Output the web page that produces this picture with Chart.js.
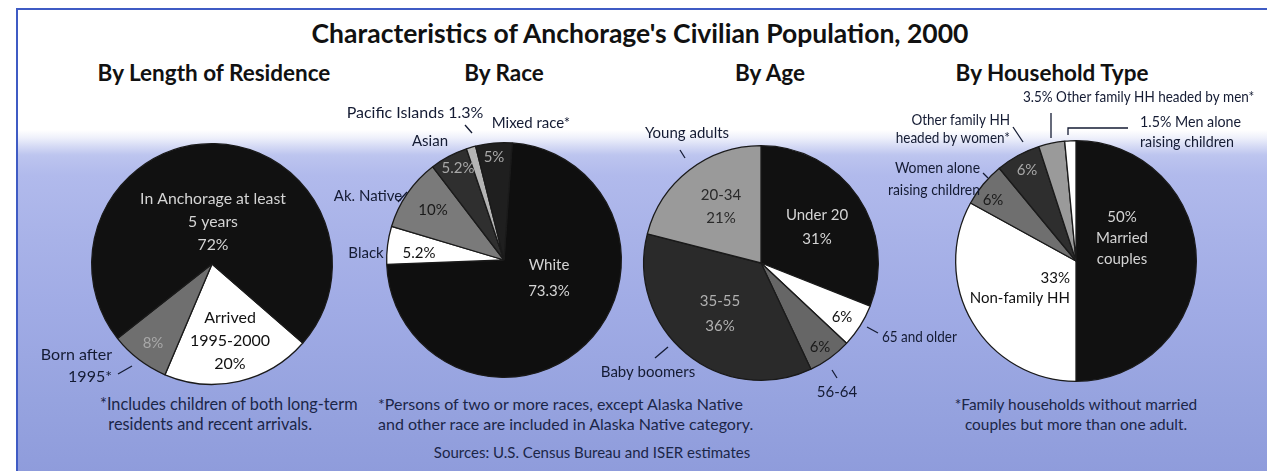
<!DOCTYPE html>
<html>
<head>
<meta charset="utf-8">
<script src="https://cdn.jsdelivr.net/npm/chart.js@4"></script>
<style>
  html, body { margin: 0; padding: 0; }
  body { width: 1267px; height: 471px; position: relative; overflow: hidden; background: #fff; font-family: Lato, 'Open Sans', sans-serif; }
  #frame {
    position: absolute; left: 16px; top: 8px; right: -10px; bottom: -10px;
    border-left: 2px solid #3f5bc4; border-top: 2px solid #3f5bc4;
    background: linear-gradient(to bottom, #ffffff 0px, #ffffff 120px, #eef0fb 128px, #d6dbf5 136px, #bdc5ef 145px, #b1baec 165px, #a8b2e8 230px, #a0abe5 300px, #96a3df 390px, #8e9bdb 470px);
  }
  canvas { position: absolute; left: 0; top: 0; }
  .txt { position: absolute; white-space: nowrap; transform: translate(-50%, -50%); color: #141b33; }
  .title { font-weight: 700; font-size: 26.5px; color: #111; }
  .sub { font-weight: 700; font-size: 22.5px; color: #111; }
  .note { line-height: 20px; color: #1b2648; }
  .left { transform: translate(0, -50%); }
  .src { font-size: 15px; color: #1b2648; }
</style>
</head>
<body>
<div id="frame"></div>
<div class="txt title" style="left:640px; top:33px;">Characteristics of Anchorage's Civilian Population, 2000</div>
<div class="txt sub" style="left:214px; top:72px;">By Length of Residence</div>
<div class="txt sub" style="left:504px; top:72px;">By Race</div>
<div class="txt sub" style="left:770px; top:72px;">By Age</div>
<div class="txt sub" style="left:1052px; top:72px;">By Household Type</div>
<div class="txt note left" style="left:100px; top:414px; font-size:16.3px;">*Includes children of both long-term<br>&nbsp;&nbsp;residents and recent arrivals.</div>
<div class="txt note left" style="left:378px; top:414px; font-size:16px;">*Persons of two or more races, except Alaska Native<br>and other race are included in Alaska Native category.</div>
<div class="txt note" style="left:1076px; top:414px; font-size:15.4px; text-align:center;">*Family households without married<br>couples but more than one adult.</div>
<div class="txt src" style="left:592px; top:452px;">Sources: U.S. Census Bureau and ISER estimates</div>

<canvas id="pie1" width="1267" height="471"></canvas>
<canvas id="pie2" width="1267" height="471"></canvas>
<canvas id="pie3" width="1267" height="471"></canvas>
<canvas id="pie4" width="1267" height="471"></canvas>

<script>
// data
var residenceLabels = ['Arrived 1995-2000', 'Born after 1995*', 'In Anchorage at least 5 years'];
var residenceValues = [20, 8, 72];

var raceLabels = ['White', 'Black', 'Ak. Native', 'Asian', 'Pacific Islands', 'Mixed race*'];
var raceValues = [73.3, 5.2, 10, 5.2, 1.3, 5];

var ageLabels = ['Under 20', '65 and older', '56-64', '35-55', '20-34'];
var ageValues = [31, 6, 6, 36, 21];

var householdLabels = ['Married couples', 'Non-family HH', 'Women alone raising children',
  'Other family HH headed by women*', 'Other family HH headed by men*', 'Men alone raising children'];
var householdValues = [50, 33, 6, 6, 3.5, 1.5];

var LIGHT = '#d4d4d4', DARK = '#111', NAVY = '#141b33';

// text placed around each pie, offsets in px from the pie centre
var residenceText = [
  { i: 2, lines: ['In Anchorage at least', '5 years', '{v}%'], dx: 1, dy: -42, color: LIGHT, lh: 23, size: 15.8 },
  { i: 0, lines: ['Arrived', '1995-2000', '{v}%'], dx: 18, dy: 77, color: DARK, lh: 23, size: 16 },
  { i: 1, lines: ['{v}%'], dx: -59, dy: 79, color: '#a8a8a8' },
  { i: 1, lines: ['Born after', '1995*'], dx: -100, dy: 102, color: NAVY, lh: 22, align: 'right', size: 16 }
];
var residenceLeaders = [[[-94, 110], [-80, 102]]];

var raceText = [
  { i: 4, lines: ['Pacific Islands {v}%'], dx: -89, dy: -147, color: NAVY, size: 16 },
  { i: 5, lines: ['Mixed race*'], dx: 27, dy: -137, color: NAVY },
  { i: 3, lines: ['Asian'], dx: -74, dy: -119, color: NAVY },
  { i: 3, lines: ['{v}%'], dx: -46, dy: -92, color: '#a8a8a8' },
  { i: 5, lines: ['{v}%'], dx: -10, dy: -103, color: '#a8a8a8' },
  { i: 2, lines: ['Ak. Native'], dx: -136, dy: -64, color: NAVY },
  { i: 2, lines: ['{v}%'], dx: -71, dy: -50, color: '#1a1a1a' },
  { i: 1, lines: ['Black'], dx: -138, dy: -7, color: NAVY },
  { i: 1, lines: ['{v}%'], dx: -85, dy: -7, color: DARK },
  { i: 0, lines: ['White', '{v}%'], dx: 45, dy: 18, color: LIGHT, lh: 26 }
];
var raceLeaders = [[[-39, -135], [-32, -127]], [[-106, -58], [-97, -68]]];

var ageText = [
  { i: 4, lines: ['Young adults'], dx: -74, dy: -130, color: NAVY },
  { i: 4, lines: ['20-34', '{v}%'], dx: -40, dy: -56, color: '#2a2a2a', lh: 23 },
  { i: 0, lines: ['Under 20', '{v}%'], dx: 56, dy: -36, color: LIGHT, lh: 24 },
  { i: 3, lines: ['35-55', '{v}%'], dx: -41, dy: 51, color: '#b0b0b0', lh: 25 },
  { i: 1, lines: ['{v}%'], dx: 81, dy: 54, color: DARK },
  { i: 2, lines: ['{v}%'], dx: 59, dy: 84, color: '#1a1a1a' },
  { i: 1, lines: ['65 and older'], dx: 121, dy: 74, color: NAVY, align: 'left', sx: 0.9 },
  { i: 2, lines: ['56-64'], dx: 76, dy: 129, color: NAVY },
  { i: 3, lines: ['Baby boomers'], dx: -113, dy: 109, color: NAVY }
];
var ageLeaders = [[[-81, -113], [-76, -105]], [[106, 64], [117, 70]], [[71, 107], [76, 115]], [[-106, 95], [-93, 84]]];

var householdText = [
  { i: 4, lines: ['{v}% Other family HH headed by men*'], dx: -53, dy: -164, color: NAVY, align: 'left', sx: 0.9 },
  { i: 5, lines: ['{v}% Men alone', 'raising children'], dx: 64, dy: -129, color: NAVY, align: 'left', lh: 20, sx: 0.95 },
  { i: 3, lines: ['Other family HH', 'headed by women*'], dx: -66, dy: -132, color: NAVY, align: 'right', lh: 18, sx: 0.9 },
  { i: 2, lines: ['Women alone', 'raising children'], dx: -96, dy: -82, color: NAVY, align: 'right', lh: 22, sx: 0.93 },
  { i: 3, lines: ['{v}%'], dx: -49, dy: -91, color: '#a8a8a8' },
  { i: 2, lines: ['{v}%'], dx: -83, dy: -61, color: '#1a1a1a' },
  { i: 0, lines: ['{v}%', 'Married', 'couples'], dx: 46, dy: -23, color: LIGHT, lh: 21 },
  { i: 1, lines: ['{v}%', 'Non-family HH'], dx: -6, dy: 27, color: DARK, align: 'right', lh: 20 }
];
var householdLeaders = [[[-25, -148], [-25, -123]], [[-8, -126], [-8, -133], [52, -133]], [[-63, -134], [-53, -119]], [[-93, -88], [-88, -83]]];

// draws the text blocks and leader lines relative to the pie centre
var pieText = {
  id: 'pieText',
  afterDraw: function(chart, args, opts) {
    var ctx = chart.ctx;
    var arc = chart.getDatasetMeta(0).data[0];
    var cx = arc.x, cy = arc.y;
    var values = chart.data.datasets[0].data;
    ctx.save();
    ctx.strokeStyle = NAVY;
    ctx.lineWidth = 1.3;
    (opts.leaders || []).forEach(function(pts) {
      ctx.beginPath();
      pts.forEach(function(p, k) {
        if (k === 0) ctx.moveTo(cx + p[0], cy + p[1]);
        else ctx.lineTo(cx + p[0], cy + p[1]);
      });
      ctx.stroke();
    });
    ctx.textBaseline = 'middle';
    (opts.items || []).forEach(function(t) {
      var lh = t.lh || 20;
      ctx.font = (t.size || 15) + 'px Lato, "Open Sans", sans-serif';
      ctx.fillStyle = t.color;
      ctx.textAlign = t.align || 'center';
      var y0 = cy + t.dy - (t.lines.length - 1) * lh / 2;
      t.lines.forEach(function(line, k) {
        ctx.save();
        ctx.translate(cx + t.dx, y0 + k * lh);
        ctx.scale(t.sx || 1, 1);
        ctx.fillText(line.replace('{v}', values[t.i]), 0, 0);
        ctx.restore();
      });
    });
    ctx.restore();
  }
};

function makePie(id, labels, values, colors, rotation, cx, cy, r, items, leaders) {
  var w = 1267, h = 471;
  return new Chart(document.getElementById(id), {
    type: 'pie',
    data: {
      labels: labels,
      datasets: [{
        data: values,
        backgroundColor: colors,
        borderColor: '#1a1a1a',
        borderWidth: 1.3
      }]
    },
    options: {
      responsive: false,
      animation: false,
      rotation: rotation,
      layout: { padding: { left: cx - r, top: cy - r, right: w - cx - r, bottom: h - cy - r } },
      plugins: {
        legend: { display: false },
        tooltip: { enabled: false },
        pieText: { items: items, leaders: leaders }
      }
    },
    plugins: [pieText]
  });
}

makePie('pie1', residenceLabels, residenceValues, ['#ffffff', '#6f6f6f', '#111111'], 131, 212, 264, 121, residenceText, residenceLeaders);
makePie('pie2', raceLabels, raceValues, ['#0f0f0f', '#ffffff', '#7a7a7a', '#2f2f2f', '#b4b4b4', '#1f1f1f'], 4, 504, 260, 118, raceText, raceLeaders);
makePie('pie3', ageLabels, ageValues, ['#111111', '#ffffff', '#666666', '#2a2a2a', '#9a9a9a'], 0, 761, 263, 118, ageText, ageLeaders);
makePie('pie4', householdLabels, householdValues, ['#111111', '#ffffff', '#6f6f6f', '#2e2e2e', '#9a9a9a', '#ffffff'], 0, 1076, 261, 121, householdText, householdLeaders);
</script>
</body>
</html>
